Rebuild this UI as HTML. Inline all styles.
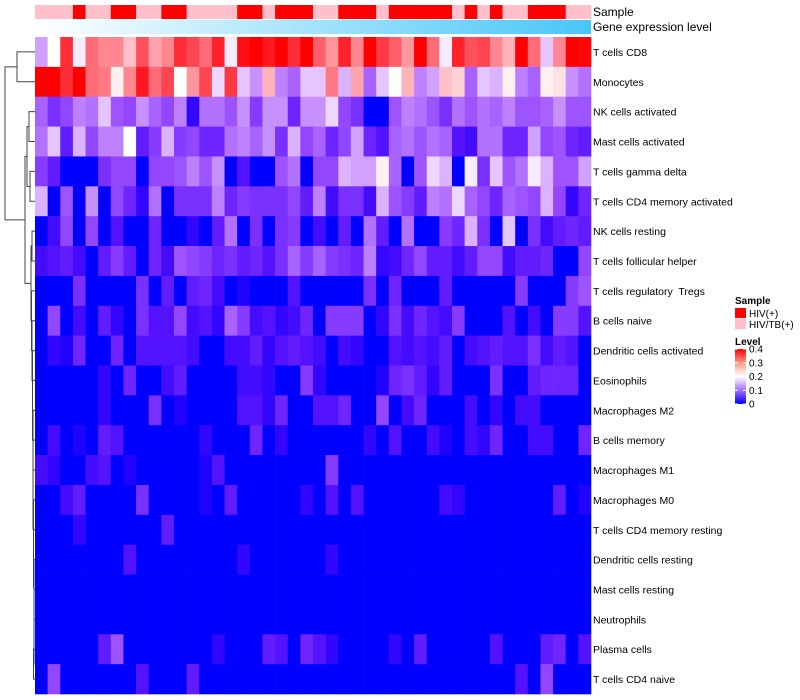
<!DOCTYPE html>
<html><head><meta charset="utf-8"><style>
body{margin:0;background:#fff;}
svg{display:block;font-family:"Liberation Sans",sans-serif;}
text{white-space:pre;}
</style></head><body>
<svg id="chart" width="800" height="700">
<defs>
<linearGradient id="geneGrad" x1="0" x2="1" y1="0" y2="0"><stop offset="0" stop-color="#ffffff"/><stop offset="1" stop-color="#48c6f7"/></linearGradient>
<linearGradient id="levelGrad" x1="0" x2="0" y1="0" y2="1"><stop offset="0" stop-color="#ff0000"/><stop offset="0.25" stop-color="#ff9a86"/><stop offset="0.5" stop-color="#ffffff"/><stop offset="0.75" stop-color="#a070ff"/><stop offset="1" stop-color="#0000ff"/></linearGradient>
</defs>
<g id="dendro"></g>
<g id="cells"></g>
<g id="annot"></g>
<g id="labels"></g>
<text x="593" y="16" font-size="12">Sample</text>
<text x="593" y="31" font-size="12">Gene expression level</text>
<g>
<text x="735" y="304" font-size="10" font-weight="bold">Sample</text>
<rect x="735" y="308" width="11" height="10" fill="#ff0000"/>
<text x="749" y="317" font-size="10">HIV(+)</text>
<rect x="735" y="319" width="11" height="10" fill="#ffc0cb"/>
<text x="749" y="328" font-size="10">HIV/TB(+)</text>
<text x="735" y="345" font-size="10" font-weight="bold">Level</text>
<rect x="735" y="349" width="11" height="55" fill="url(#levelGrad)"/>
<g id="lvlticks"></g>
</g>
</svg>
<script>
const rowNames=["T cells CD8","Monocytes","NK cells activated","Mast cells activated","T cells gamma delta","T cells CD4 memory activated","NK cells resting","T cells follicular helper","T cells regulatory  Tregs","B cells naive","Dendritic cells activated","Eosinophils","Macrophages M2","B cells memory","Macrophages M1","Macrophages M0","T cells CD4 memory resting","Dendritic cells resting","Mast cells resting","Neutrophils","Plasma cells","T cells CD4 naive"];
const sampleGroups="PPPRPPRRPPRRPPPPRRPRRRPPRRRPRRRRRPRPRPPRRRPP".split("").map(c=>c==="R"?"HIV(+)":"HIV/TB(+)");
const levelTicks=[0,0.1,0.2,0.3,0.4];
const r0=[.15,.2,.35,.19,.3,.28,.28,.24,.32,.26,.28,.35,.33,.3,.36,.19,.38,.4,.37,.4,.35,.4,.31,.27,.36,.28,.4,.34,.31,.27,.4,.3,.19,.36,.32,.33,.28,.25,.4,.3,.17,.28,.4,.39];
const r1=[.4,.4,.35,.4,.3,.29,.21,.28,.37,.3,.33,.2,.27,.33,.18,.34,.17,.14,.25,.13,.11,.17,.17,.29,.16,.26,.11,.17,.2,.25,.13,.15,.24,.23,.11,.17,.16,.21,.13,.11,.21,.22,.14,.12];
const r2=[.11,.07,.09,.13,.12,.17,.1,.09,.14,.11,.09,.13,.02,.12,.12,.1,.14,.08,.14,.14,.06,.14,.14,.18,.09,.07,0,0,.1,.13,.12,.1,.07,.12,.1,.12,.11,.13,.1,.1,.11,.14,.1,.1];
const r3=[.12,.17,.05,.16,.09,.13,.13,.2,.05,.08,.16,.08,.09,.06,.06,.12,.13,.11,.14,.07,.16,.09,.11,.06,.09,.15,.06,.04,.11,.12,.1,.12,.11,.04,.03,.12,.12,.06,.06,.15,.09,.1,.06,.05];
const r4=[.08,.05,0,0,0,.07,.09,.09,0,.09,.09,.1,.13,.1,.14,0,.04,0,0,.1,.12,0,.09,.09,.16,.15,.15,.21,.11,0,.1,.18,.16,0,.19,.07,.17,.1,.12,.19,.16,.1,.1,.15];
const r5=[.16,0,.1,0,.14,0,.09,.06,.02,.12,0,.07,.07,.07,.13,.06,.08,.07,.07,.07,.09,.05,.13,.03,.07,.07,.03,.16,.1,.08,.05,.13,.12,.18,.11,.09,.06,.11,.1,.09,.16,.09,.02,.06];
const r6=[0,.03,.09,0,.09,0,.04,0,0,.06,0,0,.02,0,.05,.12,0,.07,0,.07,.08,0,.03,0,.05,0,.12,.05,0,.12,0,0,.08,.06,.16,.07,0,.17,0,.07,.03,.05,.06,.05];
const r7=[.03,.04,.05,.03,0,.05,.08,.05,0,.06,.03,.1,.09,.08,.06,.07,.05,.06,.04,.07,.11,.08,.11,.08,.07,.06,.13,.02,.03,.06,.09,.05,.05,.03,.05,.09,.09,.03,.05,.05,.06,0,0,.09];
const r8=[0,0,0,.07,0,0,0,0,.07,0,.05,0,.05,.06,.03,0,.01,0,0,0,.04,0,0,0,0,0,.07,0,.06,0,0,0,.05,0,0,0,0,0,.08,0,0,0,.08,.1];
const r9=[0,.09,0,.03,0,.05,.02,0,.07,.04,.04,.09,.03,.04,.02,.11,.08,.03,.04,.02,.03,.06,0,.08,.08,.08,0,.02,.07,.03,.06,.04,.03,.08,0,0,0,.04,0,.03,0,.08,.08,.04];
const r10=[0,.02,.01,.06,0,0,.06,0,.04,.04,.04,.04,.03,0,0,.03,.03,.05,.02,.04,.05,.04,.03,0,.03,.02,0,0,.04,.03,.04,.03,.05,0,.03,.04,.05,.04,.04,.07,.03,.05,.04,0];
const r11=[0,0,0,0,0,.02,0,.06,0,0,.03,.05,0,0,0,0,.03,.03,.02,0,0,.08,.02,0,0,0,0,.01,.06,.07,.05,.02,.05,0,0,0,.07,0,0,.05,.06,.06,.06,0];
const r12=[0,0,0,0,0,.02,0,0,0,.07,0,.01,0,0,0,0,.04,.04,.02,.06,0,0,.04,.04,.06,0,0,.09,0,.03,.06,0,0,0,.03,0,.02,0,.03,.03,0,0,0,0];
const r13=[0,.03,0,.01,0,.05,.04,0,0,0,0,0,0,.02,0,0,0,.06,0,.02,0,0,0,0,0,0,.02,0,.04,0,0,.03,.01,0,.03,.02,.06,0,0,.03,.03,0,0,.06];
const r14=[.03,.02,0,0,.03,.04,0,.01,0,0,0,0,0,.01,.04,0,0,0,0,0,0,0,0,.08,0,0,0,0,0,0,0,0,0,0,0,0,0,0,0,0,0,0,0,0];
const r15=[0,0,.03,.05,0,0,0,0,.07,0,0,0,0,.01,0,.05,0,0,0,0,0,.02,0,.04,0,.04,0,0,0,0,0,0,.03,.02,0,0,0,0,0,0,0,.05,0,.01];
const r16=[0,0,0,.02,0,0,0,0,0,0,.05,0,0,0,0,0,0,0,0,0,0,0,0,0,0,0,0,0,0,0,0,0,0,0,0,0,0,0,0,0,0,0,0,0];
const r17=[0,0,0,0,0,0,0,.04,0,0,0,0,0,0,0,0,.02,0,0,0,0,0,0,.02,0,0,0,0,0,0,0,0,0,0,0,0,0,0,0,0,0,0,0,0];
const r18=[0,0,0,0,0,0,0,0,0,0,0,0,0,0,0,0,0,0,0,0,0,0,0,0,0,0,0,0,0,0,0,0,0,0,0,0,0,0,0,0,0,0,0,0];
const r19=[0,0,0,0,0,0,0,0,0,0,0,0,0,0,0,0,0,0,0,0,0,0,0,0,0,0,0,0,0,0,0,0,0,0,0,0,0,0,0,0,0,0,0,0];
const r20=[0,0,0,0,0,.05,.1,0,0,0,0,0,0,0,.02,0,0,0,.05,.04,0,.06,.04,.02,0,0,0,0,.02,0,.05,0,0,0,0,0,.04,0,0,0,.05,.06,0,.04];
const r21=[0,.09,0,0,0,0,0,0,.04,0,0,0,.05,0,0,0,0,0,0,0,0,0,0,0,0,0,0,0,0,0,0,0,0,0,0,0,0,0,.04,0,.09,0,0,0];
const values=[r0,r1,r2,r3,r4,r5,r6,r7,r8,r9,r10,r11,r12,r13,r14,r15,r16,r17,r18,r19,r20,r21];

const NS="http://www.w3.org/2000/svg";
const X0=35,X1=591,Y0=37,Y1=694;
const nCol=values[0].length,nRow=values.length;
const cw=(X1-X0)/nCol,rh=(Y1-Y0)/nRow;
const xPos=c=>X0+c*cw;
const yPos=r=>Y0+r*rh;
function color(v){
  v=Math.max(0,Math.min(0.4,v));
  let r,g,b;
  if(v<=0.2){const t=v/0.2;r=255*Math.pow(t,0.7);g=255*Math.pow(t,1.6);b=255;}
  else{const t=(v-0.2)/0.2;r=255;g=255*Math.pow(1-t,1.25);b=255*Math.pow(1-t,1.1);}
  return `rgb(${Math.round(r)},${Math.round(g)},${Math.round(b)})`;
}
function mk(tag,attrs,parent){const e=document.createElementNS(NS,tag);for(const k in attrs)e.setAttribute(k,attrs[k]);parent.appendChild(e);return e;}
const cells=document.getElementById('cells');
values.forEach((row,ri)=>row.forEach((v,ci)=>{
  const x=xPos(ci),y=yPos(ri);
  const e=mk('rect',{x:x,y:y,width:xPos(ci+1)-x+0.3,height:yPos(ri+1)-y+0.3,fill:color(v)},cells);
  
  
}));
const annot=document.getElementById('annot');
sampleGroups.forEach((g,ci)=>{
  const x=xPos(ci);
  const e=mk('rect',{x:x,y:5,width:xPos(ci+1)-x+0.3,height:14,fill:g==="HIV(+)"?"#ff0000":"#ffc0cb"},annot);
  
  
});
const gb=mk('rect',{x:X0,y:20,width:X1-X0,height:14,fill:'url(#geneGrad)'},annot);


const labels=document.getElementById('labels');
rowNames.forEach((n,ri)=>{
  const t=mk('text',{x:593,y:yPos(ri)+rh/2+4,'font-size':'10.5'},labels);
  t.textContent=n;
  
  
});
const lt=document.getElementById('lvlticks');
levelTicks.forEach(v=>{
  const y=404-(v/0.4)*55;
  mk('line',{x1:735,x2:738,y1:y,y2:y,stroke:'#fff'},lt);
  mk('line',{x1:743,x2:746,y1:y,y2:y,stroke:'#fff'},lt);
  const t=mk('text',{x:749,y:y+3.5,'font-size':'10'},lt);
  t.textContent=String(v);
  
  
});
const tree=[30,[18,0,1],[10,[8,[6,2,3],[5,4,5]],[4,[3,6,7],[3.5,8,[3,9,[2.5,10,[2.5,11,[2,12,[2,13,[2,14,[1.5,15,[1.5,16,[1,17,[1,18,[1,19,[1.5,20,21]]]]]]]]]]]]]]]];
const dg=document.getElementById('dendro');
function node(n){
  if(typeof n==='number')return{x:X0,y:yPos(n)+rh/2};
  const a=node(n[1]),b=node(n[2]);const x=X0-n[0];
  mk('path',{d:`M${a.x},${a.y}H${x}V${b.y}H${b.x}`,fill:'none',stroke:'#444','stroke-width':1},dg);
  return{x:x,y:(a.y+b.y)/2};
}
node(tree);
</script>
</body></html>
